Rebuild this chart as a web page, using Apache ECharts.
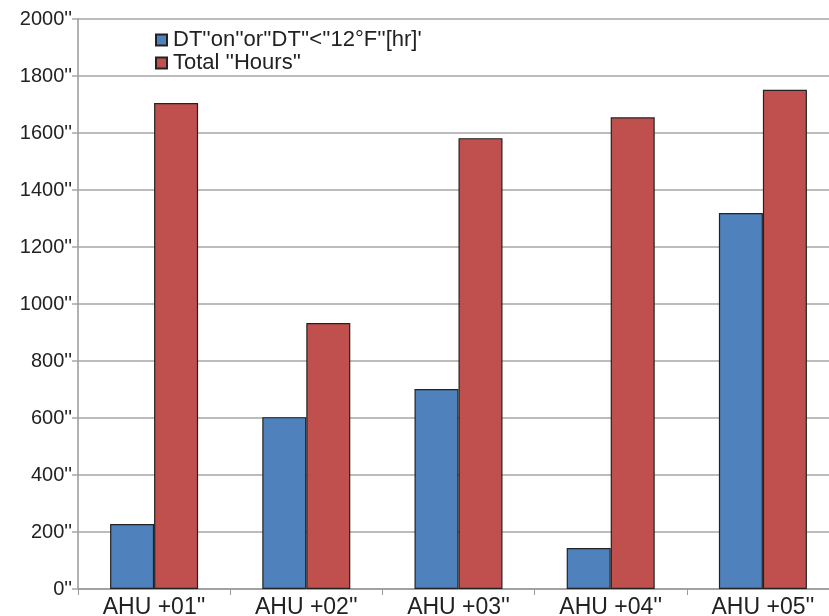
<!DOCTYPE html>
<html><head><meta charset="utf-8">
<script src="https://cdn.jsdelivr.net/npm/echarts@6/dist/echarts.min.js"></script>
<style>html,body{margin:0;padding:0;background:#fff}#c{width:829px;height:616px}</style>
</head><body><div id="c"></div>
<script>
const categories = ["AHU +01''", "AHU +02''", "AHU +03''", "AHU +04''", "AHU +05''"];
const seriesNames = ["DT''on''or''DT''<''12°F''[hr]'", "Total ''Hours''"];
const dtHours = [228, 603, 702, 144, 1319];
const totalHours = [1705, 933, 1582, 1655, 1752];
const yTicks = [0, 200, 400, 600, 800, 1000, 1200, 1400, 1600, 1800, 2000];

const chart = echarts.init(document.getElementById('c'));
const font = 'Liberation Sans, Arial, sans-serif';
chart.setOption({
  animation: false,
  backgroundColor: '#fff',
  grid: { left: 78, width: 761, top: 19, height: 570, containLabel: false, outerBoundsMode: 'none' },
  legend: {
    orient: 'vertical', left: 150, top: 24, itemWidth: 11, itemHeight: 11, itemGap: 1,
    icon: 'rect',
    textStyle: { fontFamily: font, fontSize: 22, color: '#222', padding: [0,0,0,1] },
    data: seriesNames
  },
  xAxis: {
    type: 'category', data: categories,
    axisLine: { show: true, lineStyle: { color: '#999', width: 1.5 } },
    axisTick: { show: true, length: 6, lineStyle: { color: '#999' } },
    axisLabel: { fontFamily: font, fontSize: 23, color: '#222', margin: 7 }
  },
  yAxis: {
    type: 'value', min: 0, max: 2000, interval: 200,
    axisLine: { show: true, lineStyle: { color: '#999', width: 1.5 } },
    axisTick: { show: true, length: 6, lineStyle: { color: '#a6a6a6', width: 1.5 } },
    splitLine: { show: true, lineStyle: { color: '#a6a6a6', width: 1.5 } },
    axisLabel: { fontFamily: font, fontSize: 20, color: '#222', margin: 6,
      formatter: v => yTicks.includes(v) ? v + "''" : '' }
  },
  series: [
    { name: seriesNames[0], type: 'bar', data: dtHours, barWidth: 44, barGap: '0%',
      itemStyle: { color: '#4F81BD', borderColor: '#222', borderWidth: 1.2 } },
    { name: seriesNames[1], type: 'bar', data: totalHours, barWidth: 44,
      itemStyle: { color: '#C0504D', borderColor: '#222', borderWidth: 1.2 } }
  ]
});
</script></body></html>
